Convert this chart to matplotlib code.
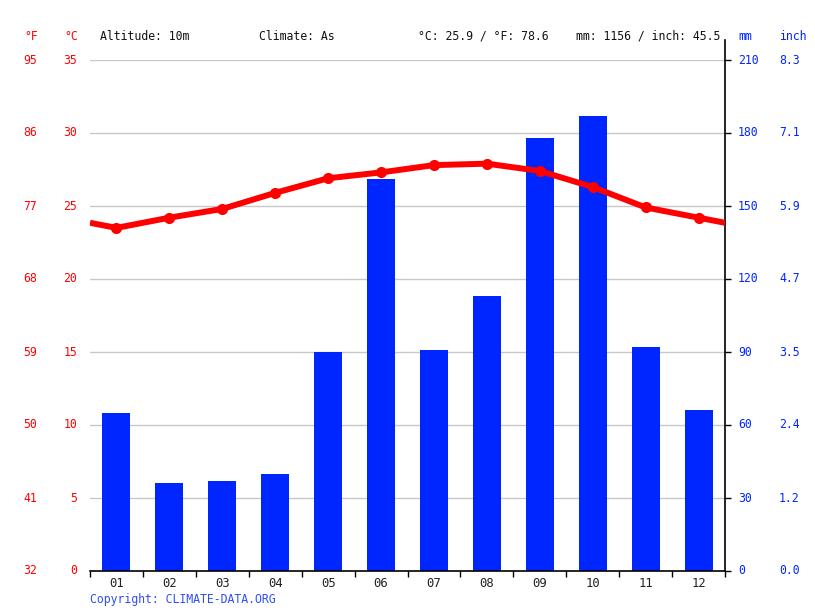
import matplotlib
matplotlib.use("Agg")
import matplotlib.pyplot as plt
import matplotlib.transforms as mtransforms
import numpy as np

months = ["01", "02", "03", "04", "05", "06", "07", "08", "09", "10", "11", "12"]
precip_mm = [65, 36, 37, 40, 90, 161, 91, 113, 178, 187, 92, 66]
temp_c = [23.5, 24.2, 24.8, 25.9, 26.9, 27.3, 27.8, 27.9, 27.4, 26.3, 24.9, 24.2]
c_ticks = [0, 5, 10, 15, 20, 25, 30, 35]
f_labels = ["32", "41", "50", "59", "68", "77", "86", "95"]
mm_ticks = [0, 30, 60, 90, 120, 150, 180, 210]
inch_labels = ["0.0", "1.2", "2.4", "3.5", "4.7", "5.9", "7.1", "8.3"]
header = ["Altitude: 10m", "Climate: As", "°C: 25.9 / °F: 78.6", "mm: 1156 / inch: 45.5"]

FONT = "DejaVu Sans Mono"
FS = 8.3
RED = "#ff0000"
BLUE = "#0026ff"
LBLUE = "#2f4dff"

fig = plt.figure(figsize=(8.15, 6.11), dpi=100)
L, R, B, T = 90/815, 725/815, 1-571/611, 1-60/611
ax = fig.add_axes([L, B, R-L, T-B])
ax2 = ax.twinx()

ax.set_xlim(0, 12)
ax.set_ylim(0, 210)

x = np.arange(12) + 0.5
for yv in mm_ticks[1:]:
    ax.axhline(yv, color="#c8c8c8", lw=1.0, zorder=0)
ax.bar(x, precip_mm, width=0.53, color=BLUE, zorder=2)

for s in ["left", "top"]:
    ax.spines[s].set_visible(False)
ax.spines["right"].set_linewidth(1.2)
ax.spines["bottom"].set_linewidth(1.2)
ax.spines["right"].set_bounds(0, 210 + 20*210/511)

ax.set_xticks(np.arange(13))
ax.set_xticklabels([])
ax.set_xticks(x, minor=True)
ax.set_xticklabels(months, minor=True, fontfamily=FONT, fontsize=8.8, color="#222222")
ax.tick_params(axis="x", which="major", direction="out", length=4, width=1)
ax.tick_params(axis="x", which="minor", length=0, pad=4)
ax.yaxis.tick_right()
ax.set_yticks(mm_ticks)
ax.set_yticklabels([])
ax.tick_params(axis="y", which="both", left=False, right=True, direction="out", length=4, width=1)

ax2.set_ylim(0, 35)
ax2.set_xlim(0, 12)
ax2.axis("off")
edge = (temp_c[0] + temp_c[-1]) / 2
lx = np.concatenate([[0], x, [12]])
ly = np.concatenate([[edge], temp_c, [edge]])
ax2.plot(lx, ly, color=RED, lw=4.3, solid_capstyle="butt", zorder=3)
ax2.plot(x, temp_c, "o", color=RED, ms=7, zorder=4)

tr = mtransforms.blended_transform_factory(fig.transFigure, ax2.transData)
for c, f in zip(c_ticks, f_labels):
    ax2.text(37/815, c, f, transform=tr, ha="right", va="center", color=RED, fontfamily=FONT, fontsize=FS)
    ax2.text(77/815, c, str(c), transform=tr, ha="right", va="center", color=RED, fontfamily=FONT, fontsize=FS)
tr2 = mtransforms.blended_transform_factory(fig.transFigure, ax.transData)
for m, inch in zip(mm_ticks, inch_labels):
    ax.text(738/815, m, str(m), transform=tr2, ha="left", va="center", color=BLUE, fontfamily=FONT, fontsize=FS)
    ax.text(779/815, m, inch, transform=tr2, ha="left", va="center", color=BLUE, fontfamily=FONT, fontsize=FS)

ytop = 1 - 36/611
fig.text(24/815, ytop, "°F", color=RED, fontfamily=FONT, fontsize=FS, va="center")
fig.text(64/815, ytop, "°C", color=RED, fontfamily=FONT, fontsize=FS, va="center")
fig.text(738/815, ytop, "mm", color=BLUE, fontfamily=FONT, fontsize=FS, va="center")
fig.text(779/815, ytop, "inch", color=BLUE, fontfamily=FONT, fontsize=FS, va="center")
for xp, t in zip([100, 259, 418, 576], header):
    fig.text(xp/815, ytop, t, color="#111111", fontfamily=FONT, fontsize=FS, va="center")
fig.text(90/815, 1 - 599/611, "Copyright: CLIMATE-DATA.ORG", color=LBLUE, fontfamily=FONT, fontsize=FS, va="center")

fig.savefig("out.png", dpi=100)
